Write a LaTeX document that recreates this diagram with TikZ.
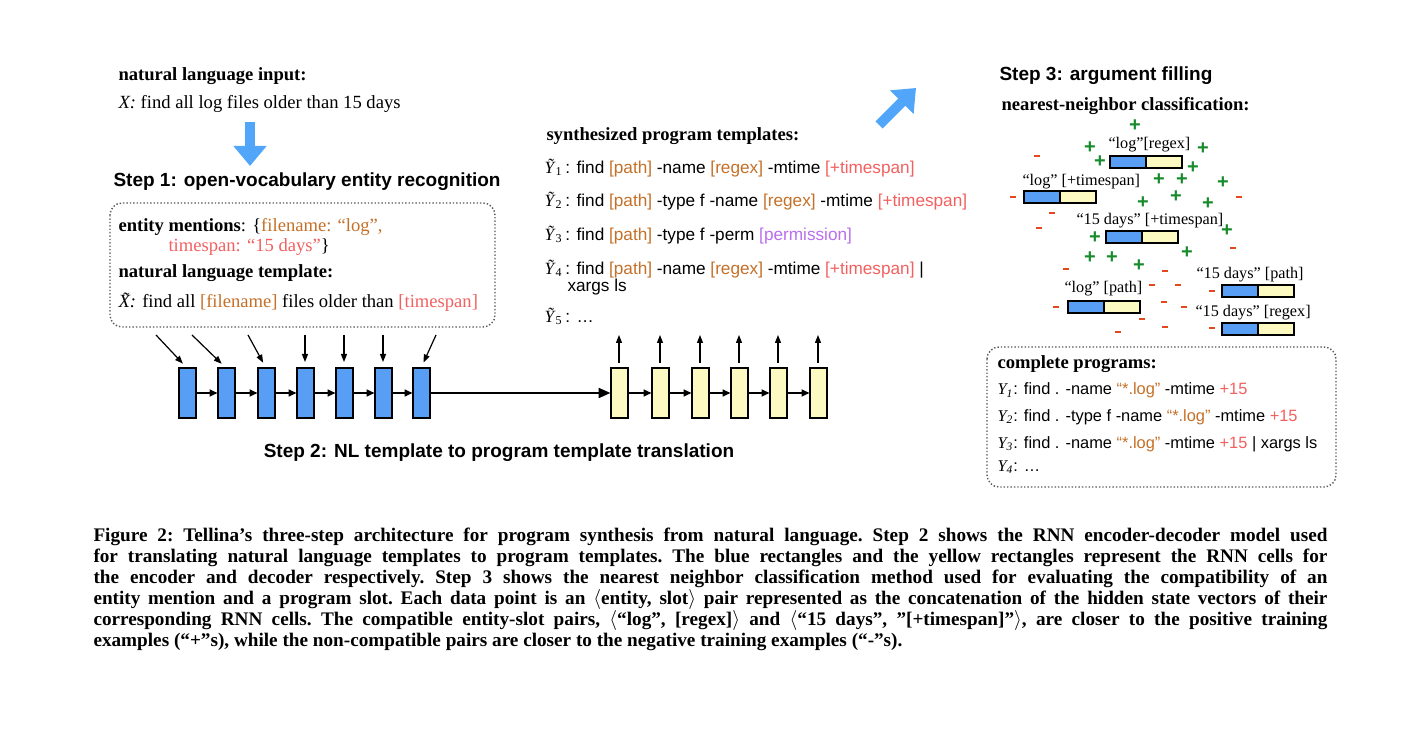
\documentclass[tikz,border=0pt]{standalone}
\usepackage{fontspec}
\setmainfont{Liberation Serif}
\setsansfont{Liberation Sans}
\usetikzlibrary{arrows.meta,positioning}

\definecolor{slotbrown}{RGB}{196,112,40}
\definecolor{slotpink}{RGB}{242,96,96}
\definecolor{slotpurple}{RGB}{186,110,236}
\definecolor{cellblue}{RGB}{88,158,245}
\definecolor{cellyellow}{RGB}{252,250,192}
\definecolor{bigblue}{RGB}{82,166,250}
\definecolor{plusgreen}{RGB}{24,140,44}
\definecolor{minusred}{RGB}{228,72,30}

\newcommand{\slotA}[1]{\textcolor{slotbrown}{#1}}
\newcommand{\slotB}[1]{\textcolor{slotpink}{#1}}
\newcommand{\slotC}[1]{\textcolor{slotpurple}{#1}}
\newcommand{\tY}[1]{\textrm{\textit{Ỹ}}\textsubscript{\textrm{#1}}}

\tikzset{every picture/.style={line width=0.5pt},
  txt/.style={font=\fontsize{9.3}{11}\selectfont, inner sep=0pt, anchor=base west},
  hd/.style={txt, font=\fontsize{9.3}{11}\selectfont\bfseries},
  stp/.style={font=\sffamily\bfseries\fontsize{9.5}{11}\selectfont, inner sep=0pt, anchor=base west},
  prg/.style={font=\sffamily\fontsize{8.6}{10}\selectfont, inner sep=0pt, anchor=base west},
  cprg/.style={prg, font=\sffamily\fontsize{8.2}{10}\selectfont},
  lbl/.style={font=\fontsize{8.1}{9}\selectfont, inner sep=0pt, anchor=base west},
  enc/.style={draw, line width=1pt, fill=cellblue, minimum width=8.5pt, minimum height=25pt, inner sep=0pt, outer sep=0pt},
  dec/.style={enc, fill=cellyellow},
  halfb/.style={draw, line width=1pt, fill=cellblue, minimum width=18pt, minimum height=6pt, inner sep=0pt, outer sep=0pt},
  halfy/.style={halfb, fill=cellyellow},
  plus/.style={text=plusgreen, font=\sffamily\bfseries\fontsize{10}{10}\selectfont, inner sep=0pt, text height=6pt, text depth=-1pt},
  minus/.style={fill=minusred, minimum width=3pt, minimum height=1.3pt, inner sep=0pt},
  dotbox/.style={draw=black!65, densely dotted, line width=0.7pt, rounded corners=6pt},
  bigarrow/.style={draw=bigblue, line width=5pt, -{Triangle[width=16pt,length=10pt]}},
  cellarr/.style={line width=0.8pt, -{Triangle[length=4pt,width=3.5pt]}},
  inarr/.style={line width=0.6pt, -{Triangle[length=4pt,width=3pt]}},
}

\begin{document}
\begin{tikzpicture}[x=0.5pt,y=-0.5pt]
\useasboundingbox (0,0) rectangle (1409,737);

% step 1: input and entity recognition
\node[hd] (nlin) at (118,80.5) {natural language input:};
\node[txt] (xin) at (118,109) {\textit{X:} find all log files older than 15 days};
\coordinate (dn0) at (250,122);
\coordinate (dn1) at (250,166);
\draw[bigarrow] (dn0) -- (dn1);
\node[stp] (s1) at (113,187) {Step 1: open-vocabulary entity recognition};
\draw[dotbox] (110,203) rectangle (495,327);
\node[txt] (ment) at (118,231.5) {\textbf{entity mentions}: \{\slotA{filename: “log”,}};
\node[txt] (ment2) at (168,251.5) {\slotB{timespan: “15 days”}\}};
\node[hd] (nlt) at (118,278) {natural language template:};
\node[txt] (xt) at (118,308) {\textit{X^^^^0303:} find all \slotA{[filename]} files older than \slotB{[timespan]}};

% step 2: encoder / decoder
\foreach \i/\x in {1/187,2/226,3/266,4/305,5/344,6/383,7/421}
  \node[enc] (e\i) at (\x,393) {};
\foreach \i/\x in {1/619,2/660,3/700,4/739,5/778,6/818}
  \node[dec] (d\i) at (\x,393) {};
\foreach \i [count=\j from 2] in {1,...,6}
  \draw[cellarr] (e\i) -- (e\j);
\foreach \i [count=\j from 2] in {1,...,5}
  \draw[cellarr] (d\i) -- (d\j);
\draw[line width=1.1pt, -{Triangle[length=6pt,width=5pt]}] (e7) -- (d1);

\foreach \i/\x in {1/156,2/192,3/248,4/305,5/344,6/383,7/436}
  \coordinate (i\i) at (\x,335);
\foreach \i in {1,...,7}
  \draw[inarr, shorten >=3pt] (i\i) -- (e\i.north);
\foreach \i/\x in {1/619,2/660,3/700,4/739,5/778,6/818}
  \coordinate (o\i) at (\x,335);
\foreach \i in {1,...,6}
  \draw[inarr, shorten <=2.5pt] (d\i.north) -- (o\i);

\node[stp, anchor=base] (s2) at (499,458) {Step 2: NL template to program template translation};

% program templates
\node[hd] (synt) at (546,140.5) {synthesized program templates:};
\node[prg] (y1) at (544,174) {\tY{1}\,: find \slotA{[path]} -name \slotA{[regex]} -mtime \slotB{[+timespan]}};
\node[prg] (y2) at (544,207) {\tY{2}\,: find \slotA{[path]} -type f -name \slotA{[regex]} -mtime \slotB{[+timespan]}};
\node[prg] (y3) at (544,240.5) {\tY{3}\,: find \slotA{[path]} -type f -perm \slotC{[permission]}};
\node[prg] (y4) at (544,275) {\tY{4}\,: find \slotA{[path]} -name \slotA{[regex]} -mtime \slotB{[+timespan]} |};
\node[prg] (y4b) at (567,292) {xargs ls};
\node[prg] (y5) at (544,323) {\tY{5}\,: \dots};

\coordinate (up0) at (879,125);
\coordinate (up1) at (916,88);
\draw[bigarrow] (up0) -- (up1);

% step 3: argument filling
\node[stp] (s3) at (999,80.5) {Step 3: argument filling};
\node[hd] (nnc) at (1001,110.5) {nearest-neighbor classification:};

\node[halfb] (p1) at (1127.5,162) {};
\node[halfy, right=0pt of p1] (p1y) {};
\node[halfb] (p2) at (1042,197.5) {};
\node[halfy, right=0pt of p2] (p2y) {};
\node[halfb] (p3) at (1123.5,237) {};
\node[halfy, right=0pt of p3] (p3y) {};
\node[halfb] (p4) at (1240,291) {};
\node[halfy, right=0pt of p4] (p4y) {};
\node[halfb] (p5) at (1085.5,307) {};
\node[halfy, right=0pt of p5] (p5y) {};
\node[halfb] (p6) at (1240,329) {};
\node[halfy, right=0pt of p6] (p6y) {};

\node[lbl] (l1) at (1108,148.3) {“log”[regex]};
\node[lbl] (l2) at (1022,186) {“log” [+timespan]};
\node[lbl] (l3) at (1076,225) {“15 days” [+timespan]};
\node[lbl] (l4) at (1196,278.3) {“15 days” [path]};
\node[lbl] (l5) at (1064,292.7) {“log” [path]};
\node[lbl] (l6) at (1195,316.7) {“15 days” [regex]};

\foreach \p in {(1135,126),(1090,148),(1100,162),(1203,149),(1193,168),(1159,180),(1182,180),(1223,183),(1176,197),(1143,203),(1208,204),(1227,231),(1095,238),(1090,258),(1112,258),(1187,253),(1139,266)}
  \node[plus] at \p {+};
\foreach \p in {(1037,156),(1013,197),(1239,197),(1052,213),(1039,228),(1233,248),(1066,269),(1165,271),(1212,291),(1152,285),(1178,285),(1056,307),(1164,302),(1184,307),(1142,319),(1165,327),(1212,328),(1118,332)}
  \node[minus] at \p {};

% complete programs
\draw[dotbox] (987,347) rectangle (1336,487);
\node[hd] (cp) at (997,368.3) {complete programs:};
\node[cprg] (c1) at (997,395) {\textrm{\textit{Y\textsubscript{1}}}: find . -name \slotA{“*.log”} -mtime \slotB{+15}};
\node[cprg] (c2) at (997,421.7) {\textrm{\textit{Y\textsubscript{2}}}: find . -type f -name \slotA{“*.log”} -mtime \slotB{+15}};
\node[cprg] (c3) at (997,448.3) {\textrm{\textit{Y\textsubscript{3}}}: find . -name \slotA{“*.log”} -mtime \slotB{+15} | xargs ls};
\node[cprg] (c4) at (997,471.7) {\textrm{\textit{Y\textsubscript{4}}}: \dots};

% caption
\node[anchor=north west, inner sep=0pt, text width=617pt, align=justify,
  font=\bfseries\fontsize{9.6}{10.5}\selectfont\frenchspacing] (cap) at (93,527) {Figure 2: Tellina’s three-step architecture for program synthesis from natural language. Step 2 shows the RNN encoder-decoder model used\linebreak
for translating natural language templates to program templates. The blue rectangles and the yellow rectangles represent the RNN cells for\linebreak
the encoder and decoder respectively. Step 3 shows the nearest neighbor classification method used for evaluating the compatibility of an\linebreak
entity mention and a program slot. Each data point is an $\langle$entity, slot$\rangle$ pair represented as the concatenation of the hidden state vectors of their\linebreak
corresponding RNN cells. The compatible entity-slot pairs, $\langle$“log”, [regex]$\rangle$ and $\langle$“15 days”, ”[+timespan]”$\rangle$, are closer to the positive training\linebreak
examples (“+”s), while the non-compatible pairs are closer to the negative training examples (“-”s).};
\end{tikzpicture}
\end{document}
